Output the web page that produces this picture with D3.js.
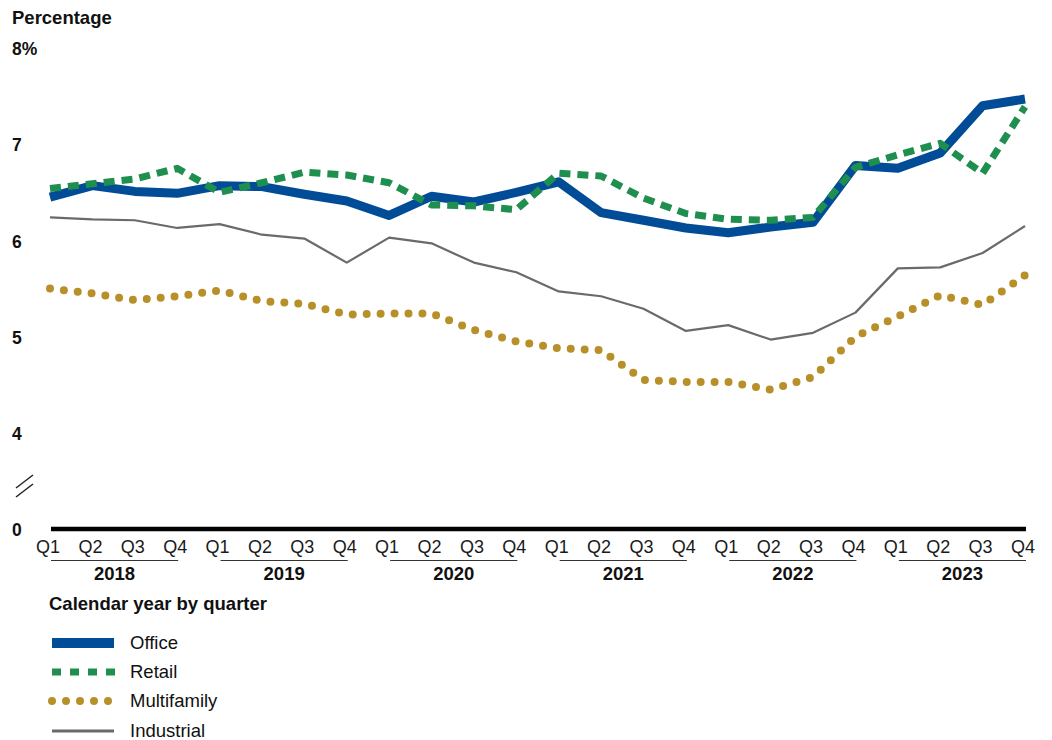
<!DOCTYPE html>
<html>
<head>
<meta charset="utf-8">
<script src="https://cdn.jsdelivr.net/npm/d3@7"></script>
<style>
  html, body { margin: 0; padding: 0; background: #fff; }
  svg text { font-family: "Liberation Sans", Arial, sans-serif; fill: #111; }
</style>
</head>
<body>
<svg id="chart" width="1052" height="740"></svg>
<script>
// Quarterly series, 2018 Q1 through 2023 Q4 (percent)
const years = ["2018", "2019", "2020", "2021", "2022", "2023"];
const quarters = ["Q1", "Q2", "Q3", "Q4"];

const office = [6.47, 6.59, 6.53, 6.51, 6.59, 6.58, 6.50, 6.43,
                6.28, 6.48, 6.42, 6.52, 6.63, 6.31, 6.23, 6.15,
                6.10, 6.16, 6.21, 6.80, 6.77, 6.93, 7.42, 7.49];
const retail = [6.56, 6.61, 6.66, 6.77, 6.52, 6.62, 6.73, 6.70,
                6.62, 6.39, 6.38, 6.34, 6.72, 6.69, 6.46, 6.30,
                6.24, 6.23, 6.26, 6.78, 6.91, 7.03, 6.72, 7.41];
const multifamily = [5.52, 5.47, 5.40, 5.44, 5.50, 5.39, 5.36, 5.25,
                     5.26, 5.26, 5.09, 4.97, 4.90, 4.88, 4.57, 4.55,
                     4.55, 4.47, 4.60, 5.02, 5.23, 5.45, 5.35, 5.66];
const industrial = [6.26, 6.24, 6.23, 6.15, 6.19, 6.08, 6.04, 5.79,
                    6.05, 5.99, 5.79, 5.69, 5.49, 5.44, 5.31, 5.08,
                    5.14, 4.99, 5.06, 5.27, 5.73, 5.74, 5.89, 6.17];

const yTicks = [8, 7, 6, 5, 4];
const yTickLabels = ["8%", "7", "6", "5", "4"];
const yZeroLabel = "0";

const seriesNames = ["Office", "Retail", "Multifamily", "Industrial"];

// Category list: one entry per quarter
const periods = [];
years.forEach(y => quarters.forEach(q => periods.push({ year: y, q, key: y + q })));

const svg = d3.select("#chart");

const x = d3.scalePoint().domain(periods.map(p => p.key)).range([50, 1025]);
// Axis is broken below 4: the baseline sits where 3 would be and is labelled 0
const y = d3.scaleLinear().domain([3, 8]).range([531, 50]);

// Axis title
svg.append("text").attr("x", 12).attr("y", 24)
  .attr("font-size", 18.5).attr("font-weight", "bold").text("Percentage");

// Y tick labels
svg.selectAll("text.ytick").data(yTicks).enter().append("text")
  .attr("class", "ytick")
  .attr("x", 12).attr("y", d => y(d) - 1)
  .attr("dy", "0.35em")
  .attr("font-size", 17.5).attr("font-weight", "bold")
  .text((d, i) => yTickLabels[i]);

const baseY = y(3) - 2;
svg.append("text").attr("x", 12).attr("y", baseY + 1).attr("dy", "0.35em")
  .attr("font-size", 17.5).attr("font-weight", "bold").text(yZeroLabel);

// Axis break mark
const brk = svg.append("g").attr("stroke", "#222").attr("stroke-width", 1.5);
brk.append("line").attr("x1", 16).attr("y1", 497).attr("x2", 33).attr("y2", 484);
brk.append("line").attr("x1", 16).attr("y1", 488).attr("x2", 33).attr("y2", 475);

// Baseline
svg.append("line")
  .attr("x1", x(periods[0].key) + 1).attr("x2", x(periods[periods.length - 1].key) + 1)
  .attr("y1", baseY).attr("y2", baseY)
  .attr("stroke", "#000").attr("stroke-width", 4.5);

// Quarter labels
svg.selectAll("text.qlab").data(periods).enter().append("text")
  .attr("class", "qlab")
  .attr("x", d => x(d.key) - 2).attr("y", 546.5).attr("dy", "0.35em")
  .attr("text-anchor", "middle").attr("font-size", 18).style("fill", "#1a1a1a")
  .text(d => d.q);

// Year brackets and labels
years.forEach(yr => {
  const x0 = x(yr + "Q1"), x1 = x(yr + "Q4");
  svg.append("line").attr("x1", x0 + 1).attr("x2", x1 + 1)
    .attr("y1", 560.5).attr("y2", 560.5)
    .attr("stroke", "#333").attr("stroke-width", 1.2);
  svg.append("text").attr("x", (x0 + x1) / 2 + 1).attr("y", 574).attr("dy", "0.35em")
    .attr("text-anchor", "middle").attr("font-size", 18.5).attr("font-weight", "bold")
    .text(yr);
});

// Series styles
const styles = {
  Office:      { color: "#004c97", width: 9,   dash: null,    cap: "butt" },
  Retail:      { color: "#1f8f4f", width: 7,   dash: "11 7",  cap: "butt" },
  Multifamily: { color: "#b8902a", width: 8,   dash: "0 14",  cap: "round" },
  Industrial:  { color: "#6a6a6a", width: 2.2, dash: null,    cap: "butt" }
};
const seriesData = { Office: office, Retail: retail, Multifamily: multifamily, Industrial: industrial };

const line = d3.line()
  .x((d, i) => x(periods[i].key))
  .y(d => y(d));

// Draw order: industrial and multifamily underneath, retail on top
["Industrial", "Multifamily", "Office", "Retail"].forEach(name => {
  const s = styles[name];
  const path = svg.append("path")
    .datum(seriesData[name])
    .attr("fill", "none")
    .attr("stroke", s.color)
    .attr("stroke-width", s.width)
    .attr("stroke-linejoin", "round")
    .attr("stroke-linecap", s.cap)
    .attr("d", line);
  if (name === "Multifamily") {
    // space the dots so one lands on each end of the line
    const len = path.node().getTotalLength();
    const n = Math.round(len / 14);
    const gap = (len - 0.5) / n;
    path.attr("stroke-dasharray", "0 " + gap);
  } else {
    path.attr("stroke-dasharray", s.dash);
  }
});

// Legend
svg.append("text").attr("x", 49).attr("y", 604).attr("dy", "0.35em")
  .attr("font-size", 18.5).attr("font-weight", "bold").text("Calendar year by quarter");

const legendY = [643, 672, 701, 731];
seriesNames.forEach((name, i) => {
  const s = styles[name];
  const ly = legendY[i];
  let x0 = 52, x1 = 114;
  if (name === "Retail") { x0 = 52; x1 = 116; }
  if (name === "Multifamily") { x0 = 52; x1 = 110; }
  svg.append("line")
    .attr("x1", x0).attr("x2", x1).attr("y1", ly).attr("y2", ly)
    .attr("stroke", s.color)
    .attr("stroke-width", name === "Office" ? 10 : name === "Industrial" ? 3 : s.width)
    .attr("stroke-linecap", s.cap)
    .attr("stroke-dasharray", name === "Retail" ? "9 9" : s.dash);
  svg.append("text").attr("x", 130).attr("y", ly).attr("dy", "0.35em")
    .attr("font-size", 18.5).text(name);
});
</script>
</body>
</html>
